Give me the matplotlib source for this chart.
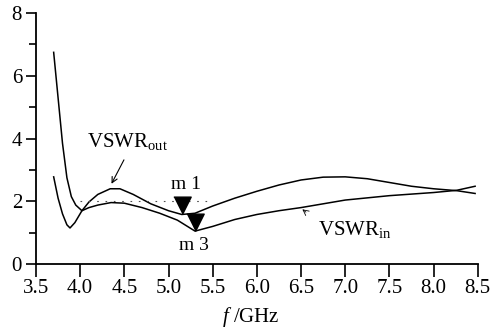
import matplotlib
matplotlib.use("Agg")
import matplotlib.pyplot as plt
from matplotlib.ticker import MultipleLocator, FixedLocator

plt.rcParams['font.family'] = ['Liberation Serif', 'DejaVu Serif']
plt.rcParams['mathtext.fontset'] = 'custom'
plt.rcParams['mathtext.rm'] = 'Liberation Serif'
plt.rcParams['mathtext.it'] = 'Liberation Serif:italic'

# VSWR_out
f_out = [3.70, 3.75, 3.80, 3.85, 3.90, 3.95, 4.02, 4.10, 4.20, 4.34, 4.45, 4.60,
         4.80, 5.00, 5.15, 5.30, 5.50, 5.75, 6.00, 6.25, 6.50, 6.75, 7.00, 7.25,
         7.50, 7.75, 8.00, 8.26, 8.47]
v_out = [6.75, 5.30, 3.85, 2.75, 2.15, 1.88, 1.70, 1.98, 2.22, 2.40, 2.40, 2.22,
         1.92, 1.70, 1.58, 1.62, 1.85, 2.10, 2.32, 2.52, 2.68, 2.77, 2.78, 2.72,
         2.60, 2.48, 2.40, 2.34, 2.25]
# VSWR_in
f_in = [3.70, 3.75, 3.80, 3.85, 3.885, 3.94, 4.02, 4.10, 4.20, 4.35, 4.50, 4.70,
        4.90, 5.10, 5.30, 5.50, 5.75, 6.00, 6.25, 6.50, 7.00, 7.50, 8.00, 8.26, 8.47]
v_in = [2.78, 2.10, 1.60, 1.25, 1.15, 1.32, 1.70, 1.80, 1.88, 1.96, 1.94, 1.80,
        1.62, 1.40, 1.05, 1.20, 1.42, 1.58, 1.70, 1.80, 2.04, 2.18, 2.28, 2.35, 2.48]

markers = {"m 1": (5.15, 1.58), "m 3": (5.30, 1.05)}
xticks = [3.5, 4.0, 4.5, 5.0, 5.5, 6.0, 6.5, 7.0, 7.5, 8.0, 8.5]
yticks = [0, 2, 4, 6, 8]

fig = plt.figure(figsize=(5.02, 3.28), dpi=100)
ax = fig.add_axes([0.0717, 0.195, 0.88, 0.765])
ax.set_xlim(3.5, 8.5)
ax.set_ylim(0, 8)

ax.plot(f_out, v_out, color='black', lw=1.1)
ax.plot(f_in, v_in, color='black', lw=1.1)

# reference dotted line
ax.hlines(2, 4.0, 5.5, colors='0.3', linestyles=(0, (1.5, 6)), lw=0.8)

tri = [(-0.5, 1.0), (0.5, 1.0), (0.0, 0.0)]
for name, (fx, fy) in markers.items():
    ax.plot([fx], [fy], marker=tri, markersize=25, color='black', linestyle='none')
ax.text(5.20, 2.53, "m 1", fontsize=14, ha='center', va='center')
ax.text(5.29, 0.58, "m 3", fontsize=14, ha='center', va='center')

ax.text(4.08, 3.74, r"VSWR$_{\rm out}$", fontsize=15, ha='left', va='baseline')
ax.annotate("", xy=(4.34, 2.48), xytext=(4.51, 3.40),
            arrowprops=dict(arrowstyle='->', color='black', lw=0.8))
ax.text(6.69, 0.93, r"VSWR$_{\rm in}$", fontsize=15, ha='left', va='baseline')
ax.annotate("", xy=(6.49, 1.80), xytext=(6.58, 1.6),
            arrowprops=dict(arrowstyle='->', color='black', lw=0.6))

for s in ['top', 'right']:
    ax.spines[s].set_visible(False)
for s in ['left', 'bottom']:
    ax.spines[s].set_linewidth(1.3)

ax.xaxis.set_major_locator(FixedLocator(xticks))
ax.set_xticklabels([f"{t:.1f}" for t in xticks])
ax.yaxis.set_major_locator(FixedLocator(yticks))
ax.yaxis.set_minor_locator(MultipleLocator(1))
ax.tick_params(axis='x', direction='out', length=9, width=1.2, pad=1.5, labelsize=15)
ax.tick_params(axis='y', which='major', direction='out', length=7, width=1.2, pad=3, labelsize=15)
ax.tick_params(axis='y', which='minor', direction='out', length=5, width=1.2)

ax.set_xlabel(r"$\it{f}$ /GHz", fontsize=15)
ax.xaxis.set_label_coords(0.486, -0.165)

fig.savefig("out.png", dpi=100)
